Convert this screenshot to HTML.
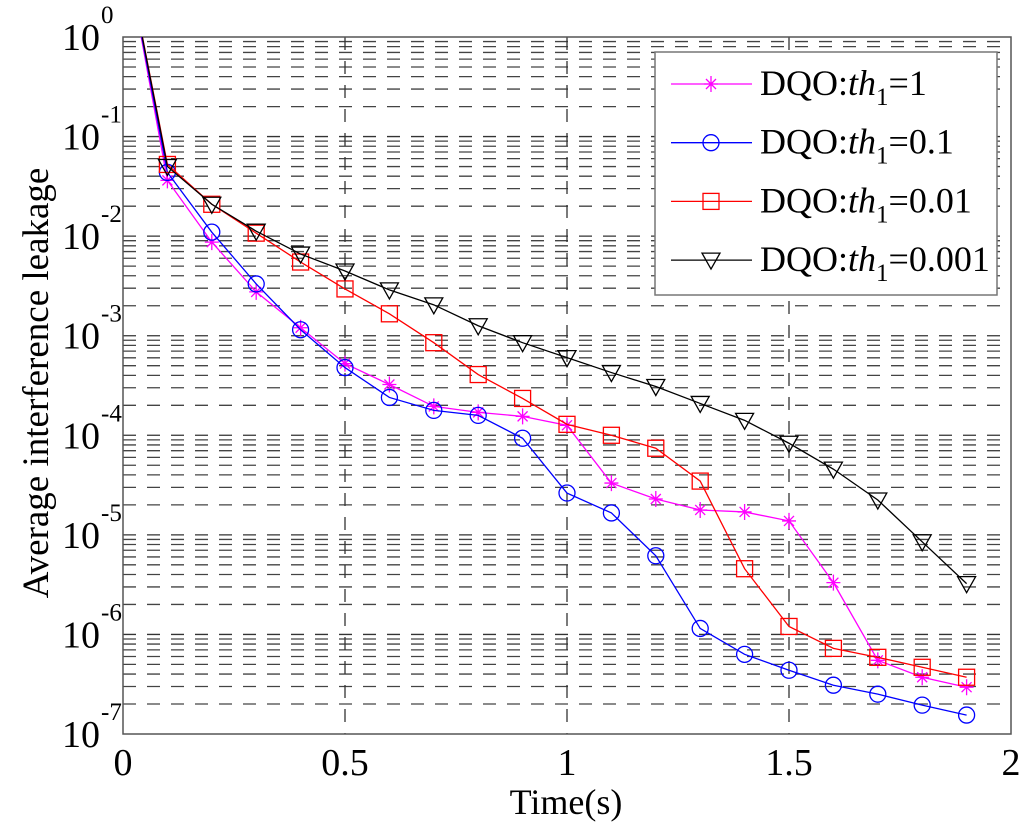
<!DOCTYPE html>
<html><head><meta charset="utf-8"><style>
body{margin:0;background:#fff;}
svg, svg text{font-family:"Liberation Serif","Times New Roman",serif;}
</style></head><body>
<svg id="chart" width="1024" height="831" viewBox="0 0 1024 831" xmlns="http://www.w3.org/2000/svg" font-family="Liberation Serif, serif">
<defs><clipPath id="clip"><rect x="123" y="37" width="888" height="697"/></clipPath></defs>
<rect x="0" y="0" width="1024" height="831" fill="#fff"/>
<g id="grid"></g>
<rect x="123" y="37" width="888" height="697" fill="none" stroke="#555" stroke-width="1.5"/>
<g id="ticks"></g>
<g id="series" clip-path="url(#clip)"></g>
<text x="566" y="814" font-size="36" text-anchor="middle" font-family="Liberation Serif, serif">Time(s)</text>
<text transform="translate(48,383) rotate(-90)" font-size="37" text-anchor="middle" font-family="Liberation Serif, serif">Average interference leakage</text>
<g>
<rect x="655" y="52" width="342" height="243" fill="#fff" stroke="#777" stroke-width="1.5"/>
<g id="legend"></g>
</g>
</svg>
<script>
const times=[0,0.1,0.2,0.3,0.4,0.5,0.6,0.7,0.8,0.9,1.0,1.1,1.2,1.3,1.4,1.5,1.6,1.7,1.8,1.9];
// log10 of average interference leakage
const logTh1=[1.0,-1.44,-2.06,-2.56,-2.92,-3.28,-3.49,-3.71,-3.77,-3.81,-3.90,-4.48,-4.64,-4.75,-4.77,-4.86,-5.48,-6.26,-6.43,-6.53];
const logTh01=[1.0,-1.36,-1.96,-2.48,-2.94,-3.32,-3.62,-3.75,-3.80,-4.03,-4.58,-4.78,-5.21,-5.94,-6.20,-6.36,-6.51,-6.60,-6.71,-6.81];
const logTh001=[1.0,-1.28,-1.68,-1.97,-2.26,-2.53,-2.78,-3.07,-3.39,-3.63,-3.89,-4.00,-4.13,-4.46,-5.34,-5.92,-6.14,-6.23,-6.33,-6.43];
const logTh0001=[1.0,-1.30,-1.68,-1.95,-2.18,-2.35,-2.54,-2.69,-2.90,-3.07,-3.22,-3.37,-3.51,-3.68,-3.85,-4.08,-4.34,-4.65,-5.07,-5.49];
const xTicks=[0,0.5,1,1.5,2];
const xTickLabels=["0","0.5","1","1.5","2"];
const yExps=[0,-1,-2,-3,-4,-5,-6,-7];
const labels=["1","0.1","0.01","0.001"];

const NS="http://www.w3.org/2000/svg";
const FF="Liberation Serif, serif";
const X0=123,X1=1011,YT=37,YB=734;
const xs=t=>X0+(t/2)*(X1-X0);
const ys=e=>YT+(0-e)/7*(YB-YT);
function mk(tag,attrs,parent){const e=document.createElementNS(NS,tag);for(const k in attrs)e.setAttribute(k,attrs[k]);parent.appendChild(e);return e;}
const grid=document.getElementById('grid'),ticks=document.getElementById('ticks'),ser=document.getElementById('series'),leg=document.getElementById('legend');

for(let d=0;d<7;d++){
  for(let m=2;m<=9;m++){
    const e=-(d+1)+Math.log10(m);
    const l=mk('line',{x1:X0,x2:X1,y1:ys(e),y2:ys(e),stroke:'#444','stroke-width':1.3,'stroke-dasharray':'13,11'},grid);
    
    
  }
}
yExps.forEach(e=>{
  if(e>-7&&e<0){
    const l=mk('line',{x1:X0,x2:X1,y1:ys(e),y2:ys(e),stroke:'#333','stroke-width':1.3,'stroke-dasharray':'13,11'},grid);
    
    
  }
  const t=mk('text',{x:100,y:ys(e)+13,'font-size':38,'text-anchor':'end','font-family':FF},ticks);
  t.textContent='10';
  
  
  const s=mk('text',{x:101,y:ys(e)-14,'font-size':25,'text-anchor':'start','font-family':FF},ticks);
  s.textContent=String(e);
  
  
});
xTicks.forEach((v,i)=>{
  if(v>0&&v<2){
    const l=mk('line',{x1:xs(v),x2:xs(v),y1:YT,y2:YB,stroke:'#333','stroke-width':1.3,'stroke-dasharray':'13,11'},grid);
    
    
  }
  const t=mk('text',{x:xs(v),y:775,'font-size':38,'text-anchor':'middle','font-family':FF},ticks);
  t.textContent=xTickLabels[i];
  
  
});

function marker(type,x,y,color,g){
  let m;
  if(type==='star'){
    m=mk('path',{d:`M${x-7} ${y}H${x+7}M${x} ${y-8}V${y+8}M${x-5} ${y-5}L${x+5} ${y+5}M${x-5} ${y+5}L${x+5} ${y-5}`,stroke:color,'stroke-width':1.3,fill:'none'},g);
  }else if(type==='circle'){
    m=mk('circle',{cx:x,cy:y,r:8,stroke:color,'stroke-width':1.3,fill:'none'},g);
  }else if(type==='square'){
    m=mk('rect',{x:x-8,y:y-8,width:16,height:16,stroke:color,'stroke-width':1.3,fill:'none'},g);
  }else{
    m=mk('path',{d:`M${x-9} ${y-7}H${x+9}L${x} ${y+9}Z`,stroke:color,'stroke-width':1.3,fill:'none'},g);
  }
  return m;
}
const seriesDefs=[
  {data:logTh1,color:'#ff00ff',mk:'star',name:'series-th1-1'},
  {data:logTh01,color:'#0000ff',mk:'circle',name:'series-th1-0.1'},
  {data:logTh001,color:'#ff0000',mk:'square',name:'series-th1-0.01'},
  {data:logTh0001,color:'#000000',mk:'triangle',name:'series-th1-0.001'}
];
seriesDefs.forEach((s,si)=>{
  const g=mk('g',{},ser);
  
  
  const pts=times.map((t,i)=>xs(t)+','+ys(s.data[i])).join(' ');
  const pl=mk('polyline',{points:pts,fill:'none',stroke:s.color,'stroke-width':1.3},g);
  
  
  times.forEach((t,i)=>{
    if(i===0)return;
    const m=marker(s.mk,xs(t),ys(s.data[i]),s.color,g);
    
    
  });
  const ly=84+si*58.7;
  const lg=mk('g',{},leg);
  
  
  mk('line',{x1:671,x2:752,y1:ly,y2:ly,stroke:s.color,'stroke-width':1.3},lg);
  marker(s.mk,711,ly,s.color,lg);
  const tx=mk('text',{x:760,y:ly+11,'font-size':36,'font-family':FF},lg);
  tx.innerHTML='DQO:<tspan font-style="italic">th</tspan><tspan font-size="25" dy="10">1</tspan><tspan dy="-10">='+labels[si]+'</tspan>';
});
</script>
</body></html>
